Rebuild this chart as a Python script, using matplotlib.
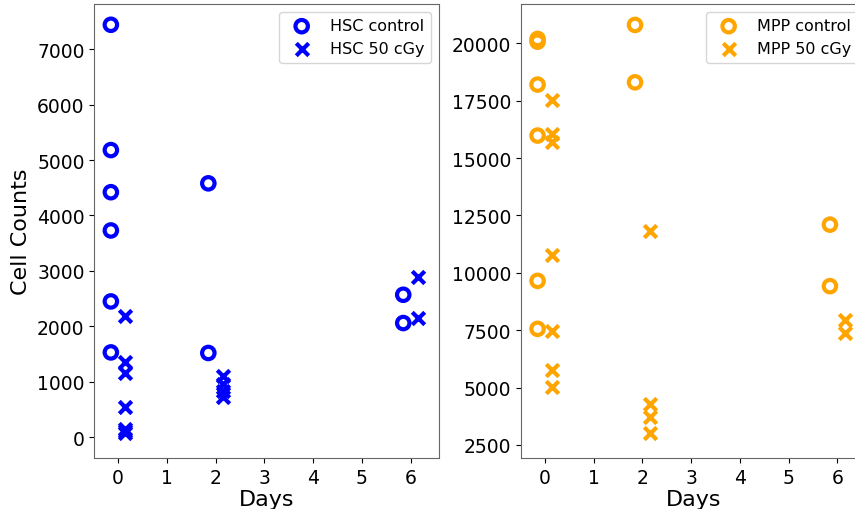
import matplotlib
matplotlib.use("Agg")
import matplotlib.pyplot as plt

# days sampled, control points shifted left, irradiated right
hsc_ctrl_days = [0, 0, 0, 0, 0, 0, 2, 2, 6, 6]
hsc_ctrl = [7440, 5180, 4420, 3730, 2450, 1530, 4580, 1520, 2570, 2060]
hsc_irr_days = [0, 0, 0, 0, 0, 0, 0, 2, 2, 2, 2, 6, 6]
hsc_irr = [2180, 1350, 1160, 540, 150, 110, 70, 1100, 960, 840, 730, 2890, 2150]

mpp_ctrl_days = [0, 0, 0, 0, 0, 0, 2, 2, 6, 6]
mpp_ctrl = [20190, 20070, 18200, 15980, 9650, 7560, 20800, 18300, 12100, 9420]
mpp_irr_days = [0, 0, 0, 0, 0, 0, 0, 2, 2, 2, 2, 6, 6]
mpp_irr = [17530, 16050, 15720, 10780, 7460, 5750, 5010, 11810, 4280, 3710, 3040, 7960, 7370]

shift = 0.15

fig = plt.figure(figsize=(8.55, 5.1), dpi=100)
ax1 = fig.add_axes([94.3 / 855, 50.7 / 510, 345 / 855, 454.3 / 510])
ax2 = fig.add_axes([521 / 855, 50.7 / 510, 345 / 855, 454.3 / 510])


def panel(ax, c_days, c_vals, i_days, i_vals, color, name):
    ax.scatter([d - shift for d in c_days], c_vals, s=80, facecolors="none",
               edgecolors=color, linewidths=3, label=name + " control")
    ax.scatter([d + shift for d in i_days], i_vals, s=80, marker="x",
               color=color, linewidths=3, label=name + " 50 cGy")
    ax.set_xlim(-0.49, 6.59)
    ax.set_xticks(range(7))
    ax.set_xlabel("Days", fontsize=16, labelpad=1.5)
    ax.tick_params(labelsize=13.5)
    for sp in ax.spines.values():
        sp.set_color("#666666")
    ax.legend(loc="upper right", fontsize=11.5)


panel(ax1, hsc_ctrl_days, hsc_ctrl, hsc_irr_days, hsc_irr, "blue", "HSC")
panel(ax2, mpp_ctrl_days, mpp_ctrl, mpp_irr_days, mpp_irr, "orange", "MPP")

ax1.set_ylim(-380, 7815)
ax1.set_ylabel("Cell Counts", fontsize=16)
ax2.set_ylim(1920, 21712)

fig.savefig("out.png", dpi=100)
